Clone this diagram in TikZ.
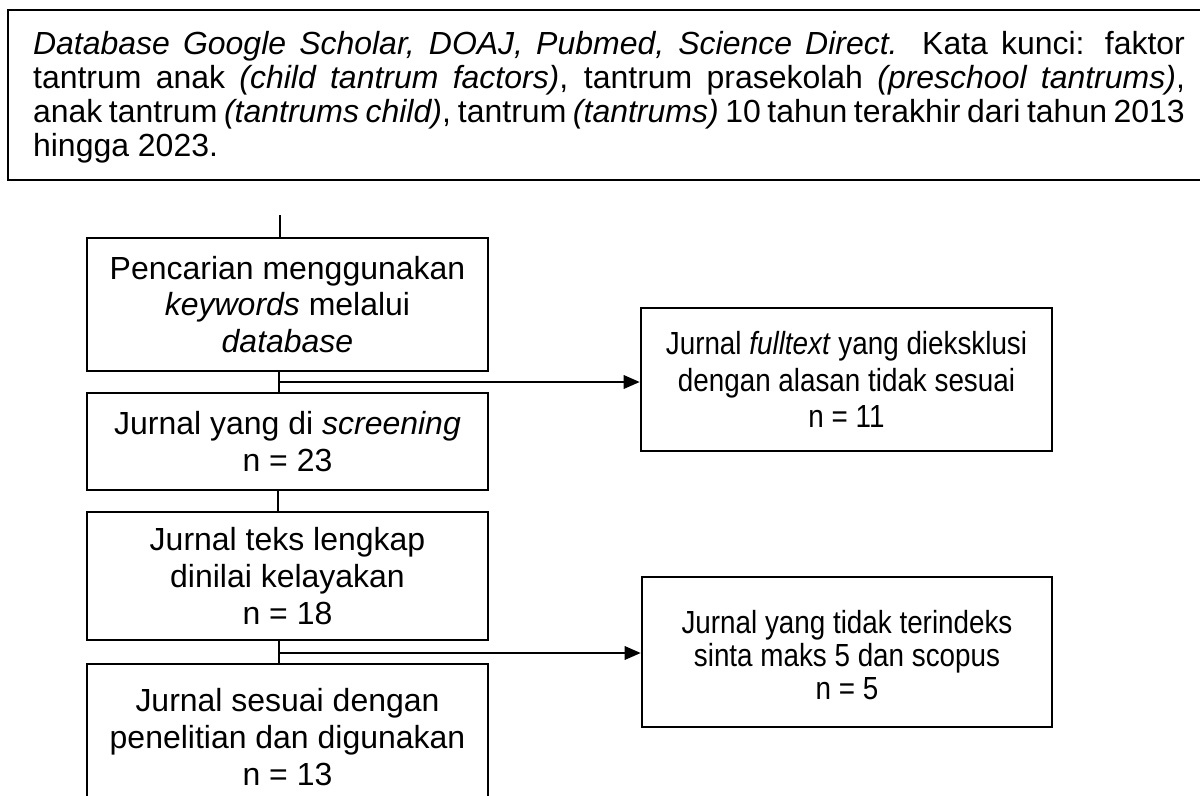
\documentclass[tikz,border=0pt]{standalone}
\usepackage{fontspec}
\setmainfont{Liberation Sans}
\newfontfamily\sempit[FakeStretch=0.87]{Liberation Sans}
\usetikzlibrary{arrows.meta}

\tikzset{
  boks/.style={draw, line width=1.5pt, align=center, inner sep=0pt,
    font=\fontsize{18.2}{21}\selectfont},
  boksek/.style={boks, font=\sempit\fontsize{18.2}{21}\selectfont},
  garis/.style={line width=1pt},
  panah/.style={line width=1pt, -{Triangle[length=0.32cm, width=0.27cm]}}
}

\begin{document}
\begin{tikzpicture}[x=0.02cm, y=-0.02cm]
    % Bingkai gambar
    \clip (0,0) rectangle (1200,795);
    \fill[white] (0,0) rectangle (1200,795);

    % Kotak kata kunci
    \draw[line width=1.5pt] (8,10) rectangle (1215,180);
    \node[inner sep=0pt, text width=23.04cm, align=justify,
      font=\fontsize{18.2}{19.4}\selectfont] (kunci) at (609,97)
      {\textit{Database Google Scholar, DOAJ, Pubmed, Science Direct.} Kata kunci: faktor\linebreak
       tantrum anak \textit{(child tantrum factors)}, tantrum prasekolah \textit{(preschool tantrums)},\linebreak
       anak tantrum \textit{(tantrums child)}, tantrum \textit{(tantrums)} 10 tahun terakhir dari tahun 2013\linebreak
       hingga 2023.};

    % Alur utama
    \node[boks, minimum width=8.02cm, minimum height=2.66cm] (cari) at (287.5,304.5)
      {Pencarian menggunakan\\ \textit{keywords} melalui\\ \textit{database}};
    \node[boks, minimum width=8.02cm, minimum height=1.94cm] (saring) at (287.5,441.5)
      {Jurnal yang di \textit{screening}\\ n = 23};
    \node[boks, minimum width=8.02cm, minimum height=2.56cm] (layak) at (287.5,576)
      {Jurnal teks lengkap\\ dinilai kelayakan\\ n = 18};
    \node[boks, minimum width=8.02cm, minimum height=2.92cm] (pakai) at (287.5,737)
      {Jurnal sesuai dengan\\ penelitian dan digunakan\\ n = 13};

    % Kotak eksklusi
    \node[boksek, minimum width=8.22cm, minimum height=2.86cm] (eks1) at (846.5,379.5)
      {Jurnal \textit{fulltext} yang dieksklusi\\ dengan alasan tidak sesuai\\ n = 11};
    \node[boksek, minimum width=8.2cm, minimum height=3cm] (eks2) at (847,652)
      {\rule{0pt}{0.6cm}Jurnal yang tidak terindeks\\[-0.08cm] sinta maks 5 dan scopus\\[-0.08cm] n = 5};

    % Garis penghubung
    \coordinate (atas) at (280,215);
    \coordinate (c1) at (279,382);
    \coordinate (c2) at (278,501);
    \coordinate (c3) at (279,653);
    \draw[garis] (atas) -- (atas |- cari.north);
    \draw[garis] (c1 |- cari.south) -- (c1 |- saring.north);
    \draw[garis] (c2 |- saring.south) -- (c2 |- layak.north);
    \draw[garis] (c3 |- layak.south) -- (c3 |- pakai.north);
    \draw[panah] (c1) -- (c1 -| eks1.west);
    \draw[panah] (c3) -- (c3 -| eks2.west);
\end{tikzpicture}
\end{document}
